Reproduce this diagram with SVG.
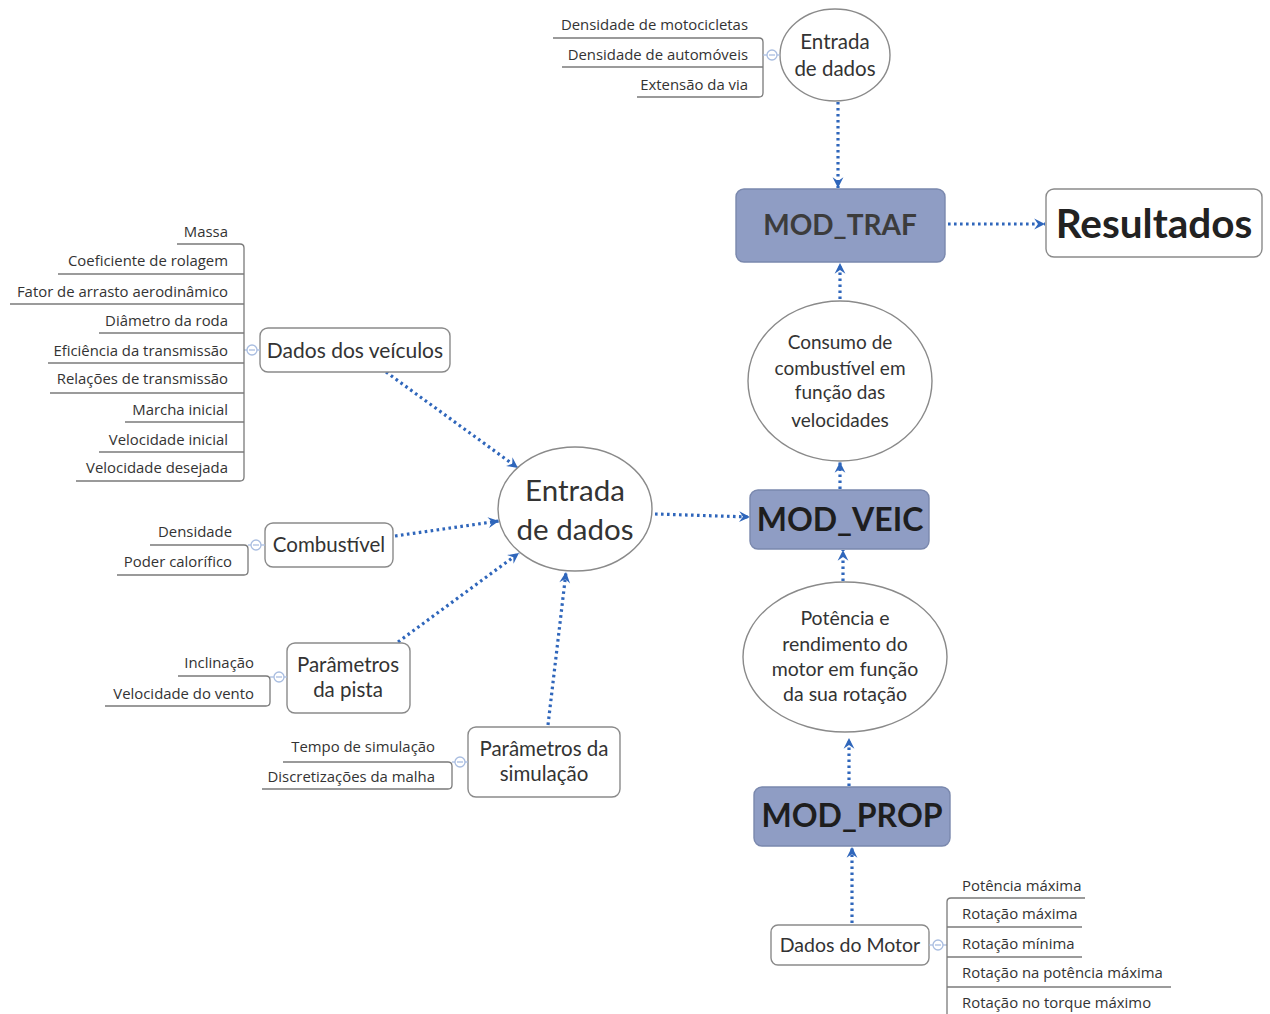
<svg xmlns="http://www.w3.org/2000/svg" width="1270" height="1014" viewBox="0 0 1270 1014">
  <style>
    .box { fill: #ffffff; stroke: #8a8a8a; stroke-width: 1.4; }
    .mod { fill: #8f9dc4; stroke: #7a88ad; stroke-width: 1.4; }
    .ell { fill: #ffffff; stroke: #8a8a8a; stroke-width: 1.4; }
    .t { font-family: Lato, "Open Sans", sans-serif; fill: #333333; text-anchor: middle; }
    .leaf { font-family: "Open Sans", Lato, sans-serif; fill: #333333; font-size: 14.9px; }
    .r { text-anchor: end; }
    .b { font-weight: bold; }
    .br { fill: none; stroke: #7a7a7a; stroke-width: 1.3; }
    .tog { fill: #ffffff; stroke: #a9bde0; stroke-width: 1.3; }
    .togl { stroke: #a9bde0; stroke-width: 1.3; }
    .link { fill: none; stroke: #2f66bb; stroke-width: 3.2; stroke-dasharray: 2.6 3.4; marker-end: url(#arr); }
  </style>
  <defs>
    <marker id="arr" viewBox="0 0 12 12" refX="11" refY="6" markerWidth="13" markerHeight="13" markerUnits="userSpaceOnUse" orient="auto">
      <path d="M1,1 L11,6 L1,11 L4.5,6 Z" fill="#2f66bb"/>
    </marker>
  </defs>

  <rect width="1270" height="1014" fill="#ffffff"/>

  <!-- connectors -->
  <g id="connectors">
    <line class="link" x1="838" y1="102" x2="838" y2="188"/>
    <line class="link" x1="948" y1="224" x2="1045" y2="224"/>
    <line class="link" x1="840" y1="299" x2="840" y2="263"/>
    <line class="link" x1="840" y1="489" x2="840" y2="462"/>
    <line class="link" x1="843" y1="581" x2="843" y2="550"/>
    <line class="link" x1="849" y1="786" x2="849" y2="738"/>
    <line class="link" x1="852" y1="923" x2="852" y2="847"/>
    <line class="link" x1="655" y1="514" x2="750" y2="517"/>
    <line class="link" x1="386" y1="372" x2="518" y2="468"/>
    <line class="link" x1="395" y1="536" x2="499" y2="521"/>
    <line class="link" x1="398" y1="642" x2="519" y2="553"/>
    <line class="link" x1="548" y1="725" x2="566" y2="572"/>
  </g>

  <!-- upper data entry -->
  <g id="entrada-trafego">
    <ellipse class="ell" cx="835" cy="55" rx="55" ry="46"/>
    <text class="t" x="835" y="49" font-size="20.5">Entrada</text>
    <text class="t" x="835" y="76" font-size="20.5">de dados</text>
    <path class="br" d="M553,38 H759 Q763,38 763,42 V93 Q763,97 759,97 H637"/>
    <line class="br" x1="562" y1="67" x2="763" y2="67"/>
    <line class="togl" x1="763" y1="55" x2="780" y2="55"/>
    <circle class="tog" cx="772" cy="55" r="5"/>
    <line class="togl" x1="769" y1="55" x2="775" y2="55"/>
    <text class="leaf r" x="748" y="30">Densidade de motocicletas</text>
    <text class="leaf r" x="748" y="60">Densidade de automóveis</text>
    <text class="leaf r" x="748" y="90">Extensão da via</text>
  </g>

  <g id="mod-traf">
    <rect class="mod" x="736" y="189" width="209" height="73" rx="8"/>
    <text class="t b" x="840" y="235" font-size="28" style="fill:#3c3c3c">MOD_TRAF</text>
  </g>

  <g id="resultados">
    <rect class="box" x="1046" y="189" width="216" height="68" rx="8"/>
    <text class="t b" x="1154" y="238" font-size="40.5" style="fill:#222">Resultados</text>
  </g>

  <g id="consumo">
    <ellipse class="ell" cx="840" cy="381" rx="92" ry="80"/>
    <text class="t" x="840" y="349" font-size="19">Consumo de</text>
    <text class="t" x="840" y="375" font-size="19">combustível em</text>
    <text class="t" x="840" y="399" font-size="19">função das</text>
    <text class="t" x="840" y="427" font-size="19">velocidades</text>
  </g>

  <g id="mod-veic">
    <rect class="mod" x="750" y="490" width="179" height="59" rx="8"/>
    <text class="t b" x="840" y="531" font-size="32" style="fill:#1e1e1e">MOD_VEIC</text>
  </g>

  <g id="potencia">
    <ellipse class="ell" cx="845" cy="657" rx="102" ry="75"/>
    <text class="t" x="845" y="625" font-size="19.5">Potência e</text>
    <text class="t" x="845" y="651" font-size="19.5">rendimento do</text>
    <text class="t" x="845" y="676" font-size="19.5">motor em função</text>
    <text class="t" x="845" y="701" font-size="19.5">da sua rotação</text>
  </g>

  <g id="mod-prop">
    <rect class="mod" x="754" y="787" width="196" height="59" rx="8"/>
    <text class="t b" x="852" y="827" font-size="32" style="fill:#1e1e1e">MOD_PROP</text>
  </g>

  <!-- engine data -->
  <g id="dados-motor">
    <rect class="box" x="771" y="925" width="158" height="40" rx="7"/>
    <text class="t" x="850" y="952" font-size="19.5">Dados do Motor</text>
    <line class="togl" x1="929" y1="945" x2="947" y2="945"/>
    <circle class="tog" cx="938" cy="945" r="5"/>
    <line class="togl" x1="935" y1="945" x2="941" y2="945"/>
    <path class="br" d="M1085,898 H951 Q947,898 947,902 V1014"/>
    <line class="br" x1="947" y1="927" x2="1082" y2="927"/>
    <line class="br" x1="947" y1="957" x2="1082" y2="957"/>
    <line class="br" x1="947" y1="987" x2="1171" y2="987"/>
    <text class="leaf" x="962" y="891">Potência máxima</text>
    <text class="leaf" x="962" y="919">Rotação máxima</text>
    <text class="leaf" x="962" y="949">Rotação mínima</text>
    <text class="leaf" x="962" y="978">Rotação na potência máxima</text>
    <text class="leaf" x="962" y="1008">Rotação no torque máximo</text>
  </g>

  <!-- central data entry -->
  <g id="entrada-central">
    <ellipse class="ell" cx="575" cy="509" rx="77" ry="62"/>
    <text class="t" x="575" y="501" font-size="29.5">Entrada</text>
    <text class="t" x="575" y="540" font-size="29.5">de dados</text>
  </g>

  <g id="dados-veiculos">
    <rect class="box" x="260" y="328" width="190" height="44" rx="8"/>
    <text class="t" x="355" y="358" font-size="21">Dados dos veículos</text>
    <line class="togl" x1="244" y1="350" x2="260" y2="350"/>
    <circle class="tog" cx="252" cy="350" r="5"/>
    <line class="togl" x1="249" y1="350" x2="255" y2="350"/>
    <path class="br" d="M177,244 H240 Q244,244 244,248 V477 Q244,481 240,481 H76"/>
    <line class="br" x1="58" y1="274" x2="244" y2="274"/>
    <line class="br" x1="10" y1="304" x2="244" y2="304"/>
    <line class="br" x1="99" y1="333" x2="244" y2="333"/>
    <line class="br" x1="48" y1="363" x2="244" y2="363"/>
    <line class="br" x1="50" y1="393" x2="244" y2="393"/>
    <line class="br" x1="125" y1="422" x2="244" y2="422"/>
    <line class="br" x1="99" y1="452" x2="244" y2="452"/>
    <text class="leaf r" x="228" y="237">Massa</text>
    <text class="leaf r" x="228" y="266">Coeficiente de rolagem</text>
    <text class="leaf r" x="228" y="297">Fator de arrasto aerodinâmico</text>
    <text class="leaf r" x="228" y="326">Diâmetro da roda</text>
    <text class="leaf r" x="228" y="356">Eficiência da transmissão</text>
    <text class="leaf r" x="228" y="384">Relações de transmissão</text>
    <text class="leaf r" x="228" y="415">Marcha inicial</text>
    <text class="leaf r" x="228" y="445">Velocidade inicial</text>
    <text class="leaf r" x="228" y="473">Velocidade desejada</text>
  </g>

  <g id="combustivel">
    <rect class="box" x="265" y="523" width="128" height="44" rx="8"/>
    <text class="t" x="329" y="552" font-size="20.5">Combustível</text>
    <line class="togl" x1="248" y1="545" x2="265" y2="545"/>
    <circle class="tog" cx="256" cy="545" r="5"/>
    <line class="togl" x1="253" y1="545" x2="259" y2="545"/>
    <path class="br" d="M150,545 H244 Q248,545 248,549 V571 Q248,575 244,575 H117"/>
    <text class="leaf r" x="232" y="537">Densidade</text>
    <text class="leaf r" x="232" y="567">Poder calorífico</text>
  </g>

  <g id="parametros-pista">
    <rect class="box" x="287" y="643" width="123" height="70" rx="8"/>
    <text class="t" x="348" y="672" font-size="20.5">Parâmetros</text>
    <text class="t" x="348" y="697" font-size="20.5">da pista</text>
    <line class="togl" x1="270" y1="677" x2="287" y2="677"/>
    <circle class="tog" cx="279" cy="677" r="5"/>
    <line class="togl" x1="276" y1="677" x2="282" y2="677"/>
    <path class="br" d="M178,676 H266 Q270,676 270,680 V702 Q270,706 266,706 H105"/>
    <text class="leaf r" x="254" y="668">Inclinação</text>
    <text class="leaf r" x="254" y="699">Velocidade do vento</text>
  </g>

  <g id="parametros-simulacao">
    <rect class="box" x="468" y="727" width="152" height="70" rx="8"/>
    <text class="t" x="544" y="756" font-size="20.5">Parâmetros da</text>
    <text class="t" x="544" y="781" font-size="20.5">simulação</text>
    <line class="togl" x1="452" y1="762" x2="468" y2="762"/>
    <circle class="tog" cx="460" cy="762" r="5"/>
    <line class="togl" x1="457" y1="762" x2="463" y2="762"/>
    <path class="br" d="M283,762 H448 Q452,762 452,766 V785 Q452,789 448,789 H262"/>
    <text class="leaf r" x="435" y="752">Tempo de simulação</text>
    <text class="leaf r" x="435" y="782">Discretizações da malha</text>
  </g>
</svg>
